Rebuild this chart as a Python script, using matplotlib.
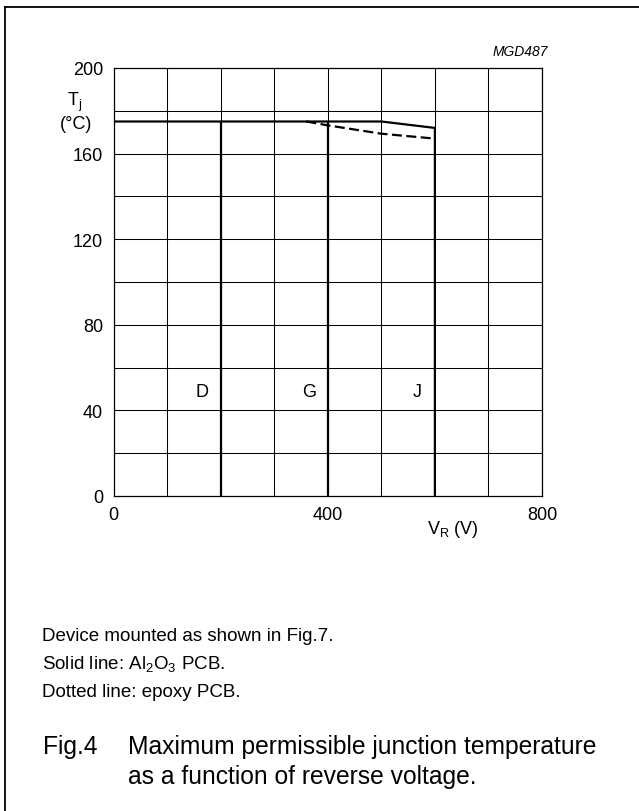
import numpy as np
import matplotlib.pyplot as plt
from matplotlib.lines import Line2D

plt.rcParams['font.family'] = ['Liberation Sans', 'DejaVu Sans']

# 数据
solid_v = [0, 500, 600, 600]
solid_t = [175, 175, 172, 0]
dash_v = [360, 400, 500, 600]
dash_t = [175, 173.2, 169.3, 167]
limit_v = [200, 400]          # D, G 的竖线
limit_top = [175, 175]
labels = ['D', 'G', 'J']
label_v = [165, 366, 567]
label_t = [49, 49, 49]
xticks = [0, 400, 800]
yticks = [0, 40, 80, 120, 160, 200]

W, H = 639, 812
fig = plt.figure(figsize=(W / 100, H / 100), dpi=100)

# 外框 (只看得到左边和上边)
fig.add_artist(Line2D([4.5 / W, 4.5 / W], [0, 1 - 8 / H], transform=fig.transFigure,
                      color='black', lw=1.3))
fig.add_artist(Line2D([4.5 / W, 1], [1 - 8 / H, 1 - 8 / H], transform=fig.transFigure,
                      color='black', lw=1.3))

ax = fig.add_axes([113.5 / W, 1 - 497 / H, 428.5 / W, 428 / H])
ax.set_xlim(0, 800)
ax.set_ylim(0, 200)

# 网格
for x in range(100, 800, 100):
    ax.axvline(x, color='black', lw=0.75)
for y in range(20, 200, 20):
    ax.axhline(y, color='black', lw=0.75)
for s in ax.spines.values():
    s.set_linewidth(0.9)

ax.plot(solid_v, solid_t, color='black', lw=1.6, solid_joinstyle='miter')
ax.plot(dash_v, dash_t, color='black', lw=1.6, ls=(0, (4.5, 2)))
ax.vlines(limit_v, 0, limit_top, color='black', lw=1.6)
for lab, xv, yv in zip(labels, label_v, label_t):
    ax.text(xv, yv, lab, fontsize=13, ha='center', va='center')

ax.set_xticks(xticks)
ax.set_yticks(yticks)
ax.tick_params(length=0, labelsize=13)
ax.tick_params(axis='y', pad=7.5)
ax.tick_params(axis='x', pad=7)

fig.text(67 / W, 1 - 106 / H, r'T$_\mathregular{j}$', fontsize=13, ha='left', va='baseline')
fig.text(76 / W, 1 - 125 / H, '(°C)', fontsize=13, ha='center', va='center')
fig.text(427 / W, 1 - 534 / H, r'V$_\mathregular{R}$ (V)', fontsize=13, ha='left', va='baseline')
fig.text(548 / W, 1 - 52 / H, 'MGD487', fontsize=10, style='italic', ha='right', va='center')

fig.text(42 / W, 1 - 637 / H, 'Device mounted as shown in Fig.7.', fontsize=13.5, va='center')
fig.text(42 / W, 1 - 665 / H, r'Solid line: Al$_\mathregular{2}$O$_\mathregular{3}$ PCB.',
         fontsize=13.5, va='center')
fig.text(42 / W, 1 - 693 / H, 'Dotted line: epoxy PCB.', fontsize=13.5, va='center')
fig.text(43 / W, 1 - 747 / H, 'Fig.4', fontsize=17.7, va='center')
fig.text(128 / W, 1 - 747 / H, 'Maximum permissible junction temperature', fontsize=17.7, va='center')
fig.text(128 / W, 1 - 777 / H, 'as a function of reverse voltage.', fontsize=17.7, va='center')

plt.savefig('out.png', dpi=100)
